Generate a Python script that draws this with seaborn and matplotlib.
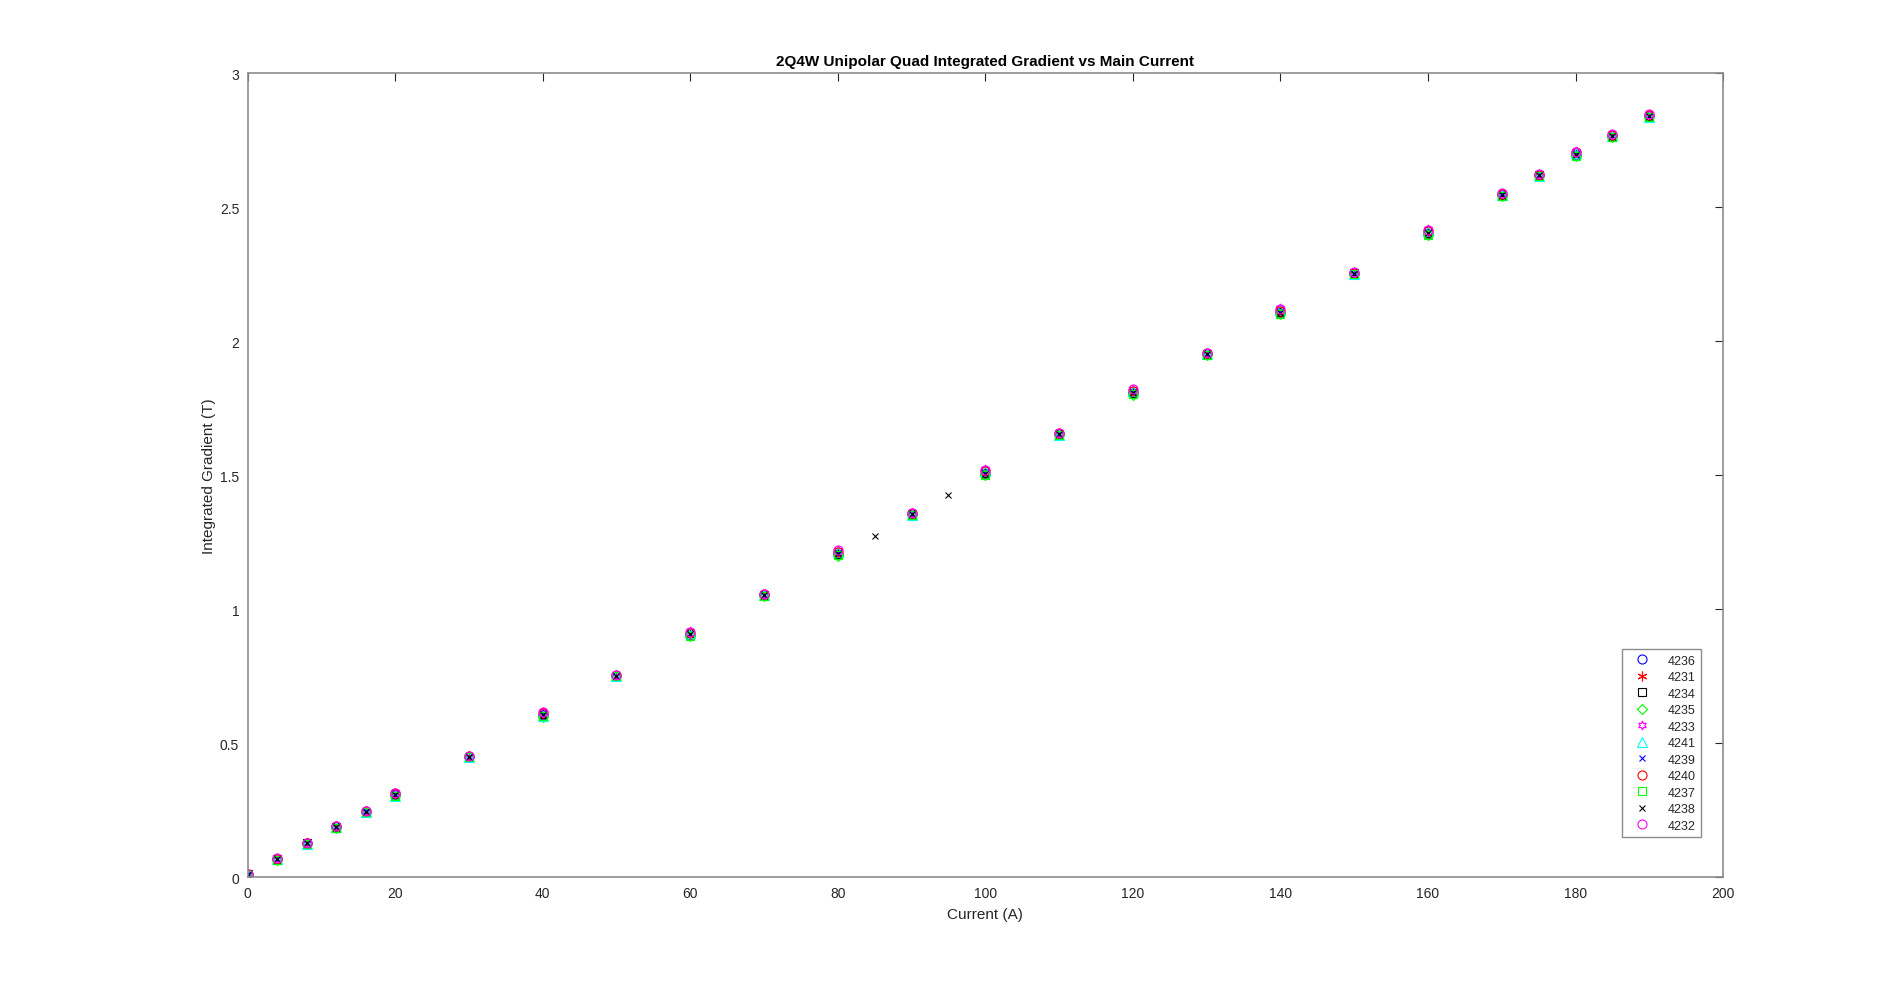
import numpy as np
import pandas as pd
import matplotlib
matplotlib.use("Agg")
import matplotlib.pyplot as plt
import seaborn as sns

# currents (A) measured for every magnet
current = [0, 4, 8, 12, 16, 20, 30, 40, 50, 60, 70, 80, 90, 100, 110, 120,
           130, 140, 150, 160, 170, 175, 180, 185, 190]
# magnet 4238 also has points at 85 A and 95 A
current_4238 = [0, 4, 8, 12, 16, 20, 30, 40, 50, 60, 70, 80, 85, 90, 95, 100,
                110, 120, 130, 140, 150, 160, 170, 175, 180, 185, 190]

g_4236 = [0.010, 0.068, 0.127, 0.188, 0.245, 0.308, 0.450, 0.605, 0.752, 0.905, 1.053, 1.205, 1.355,
          1.505, 1.652, 1.805, 1.952, 2.105, 2.252, 2.400, 2.545, 2.618, 2.695, 2.765, 2.838]
g_4231 = [0.012, 0.070, 0.128, 0.190, 0.246, 0.312, 0.452, 0.610, 0.753, 0.908, 1.055, 1.210, 1.357,
          1.510, 1.655, 1.810, 1.953, 2.110, 2.255, 2.405, 2.548, 2.620, 2.700, 2.768, 2.842]
g_4234 = [0.011, 0.069, 0.127, 0.189, 0.245, 0.310, 0.451, 0.608, 0.752, 0.906, 1.054, 1.208, 1.356,
          1.508, 1.653, 1.808, 1.952, 2.108, 2.253, 2.402, 2.546, 2.619, 2.697, 2.766, 2.840]
g_4235 = [0.009, 0.066, 0.125, 0.186, 0.243, 0.302, 0.448, 0.600, 0.750, 0.900, 1.051, 1.200, 1.352,
          1.500, 1.650, 1.800, 1.950, 2.100, 2.250, 2.395, 2.543, 2.615, 2.690, 2.762, 2.835]
g_4233 = [0.013, 0.072, 0.130, 0.192, 0.248, 0.316, 0.454, 0.618, 0.755, 0.918, 1.057, 1.222, 1.359,
          1.522, 1.657, 1.822, 1.955, 2.122, 2.257, 2.418, 2.552, 2.623, 2.708, 2.772, 2.848]
g_4241 = [0.010, 0.067, 0.126, 0.187, 0.244, 0.305, 0.449, 0.603, 0.751, 0.913, 1.052, 1.215, 1.353,
          1.515, 1.651, 1.815, 1.951, 2.115, 2.251, 2.410, 2.544, 2.616, 2.700, 2.764, 2.836]
g_4239 = [0.011, 0.069, 0.128, 0.189, 0.246, 0.311, 0.451, 0.609, 0.753, 0.907, 1.054, 1.209, 1.356,
          1.509, 1.654, 1.809, 1.953, 2.109, 2.254, 2.404, 2.547, 2.619, 2.698, 2.767, 2.841]
g_4240 = [0.012, 0.070, 0.129, 0.191, 0.247, 0.314, 0.453, 0.614, 0.754, 0.911, 1.056, 1.214, 1.358,
          1.514, 1.656, 1.814, 1.954, 2.114, 2.256, 2.412, 2.550, 2.621, 2.704, 2.770, 2.845]
g_4237 = [0.009, 0.066, 0.125, 0.186, 0.243, 0.303, 0.448, 0.601, 0.750, 0.902, 1.051, 1.202, 1.352,
          1.502, 1.650, 1.802, 1.950, 2.102, 2.250, 2.397, 2.543, 2.615, 2.692, 2.762, 2.835]
g_4238 = [0.010, 0.068, 0.127, 0.188, 0.245, 0.309, 0.450, 0.606, 0.752, 0.906, 1.053, 1.206, 1.272,
          1.355, 1.427, 1.506, 1.652, 1.806, 1.952, 2.106, 2.252, 2.403, 2.546, 2.618, 2.696, 2.766, 2.839]
g_4232 = [0.013, 0.071, 0.130, 0.192, 0.248, 0.316, 0.454, 0.617, 0.755, 0.916, 1.057, 1.220, 1.359,
          1.520, 1.657, 1.820, 1.955, 2.120, 2.257, 2.416, 2.552, 2.623, 2.707, 2.772, 2.848]

magnets = ["4236", "4231", "4234", "4235", "4233", "4241", "4239", "4240", "4237", "4238", "4232"]
gradients = [g_4236, g_4231, g_4234, g_4235, g_4233, g_4241, g_4239, g_4240, g_4237, g_4238, g_4232]
currents = [current] * 9 + [current_4238, current]

# matlab-ish marker / colour specs ('*' in matlab is an asterisk, 'h' a hexagram)
markers = ["o", (6, 2, 0), "s", "D", (6, 1, 0), "^", "x", "o", "s", "x", "o"]
colors = ["#0000ff", "#ff0000", "#000000", "#00ff00", "#ff00ff", "#00ffff",
          "#0000ff", "#ff0000", "#00ff00", "#000000", "#ff00ff"]
sizes = [6.5, 7, 5.5, 5.5, 6.5, 6.5, 4.5, 6.5, 5.5, 4.5, 6.5]

sns.set_style("white")
plt.rcParams["font.family"] = ["Liberation Sans", "DejaVu Sans"]

fig = plt.figure(figsize=(19.04, 9.87), dpi=100)
ax = fig.add_axes([0.13, 0.11, 0.775, 0.815])

for name, xs, ys, m, c, s in zip(magnets, currents, gradients, markers, colors, sizes):
    df = pd.DataFrame({"I": xs, "G": ys})
    sns.lineplot(data=df, x="I", y="G", ax=ax, marker=m, color=c, linestyle="",
                 markerfacecolor="none", markeredgecolor=c, markeredgewidth=0.8,
                 markersize=s, sort=False, errorbar=None, label=name)

ax.set_xlim(0, 200)
ax.set_ylim(0, 3)
ax.set_xticks(np.arange(0, 201, 20))
ax.set_yticks([0, 0.5, 1, 1.5, 2, 2.5, 3])
ax.set_yticklabels(["0", "0.5", "1", "1.5", "2", "2.5", "3"])
ax.tick_params(direction="in", length=6, width=0.8, top=True, right=True,
               labelsize=10, colors="#262626", pad=6)
for sp in ax.spines.values():
    sp.set_visible(True)
    sp.set_color("#8c8c8c")
    sp.set_linewidth(1.2)

ax.set_xlabel("Current (A)", fontsize=11, color="#262626", labelpad=5)
ax.set_ylabel("Integrated Gradient (T)", fontsize=11, color="#262626", labelpad=3)
ax.set_title("2Q4W Unipolar Quad Integrated Gradient vs Main Current",
             fontsize=11, fontweight="bold", color="#000000", pad=6)

leg = ax.legend(loc="lower right", bbox_to_anchor=(0.985, 0.05), borderaxespad=0,
                fontsize=9, frameon=True, fancybox=False, shadow=False, framealpha=1,
                edgecolor="#8c8c8c", labelspacing=0.36, handlelength=2.3,
                handletextpad=0.9, borderpad=0.45)
leg.get_frame().set_linewidth(1.0)

fig.savefig("out.png", dpi=100, facecolor="white")
